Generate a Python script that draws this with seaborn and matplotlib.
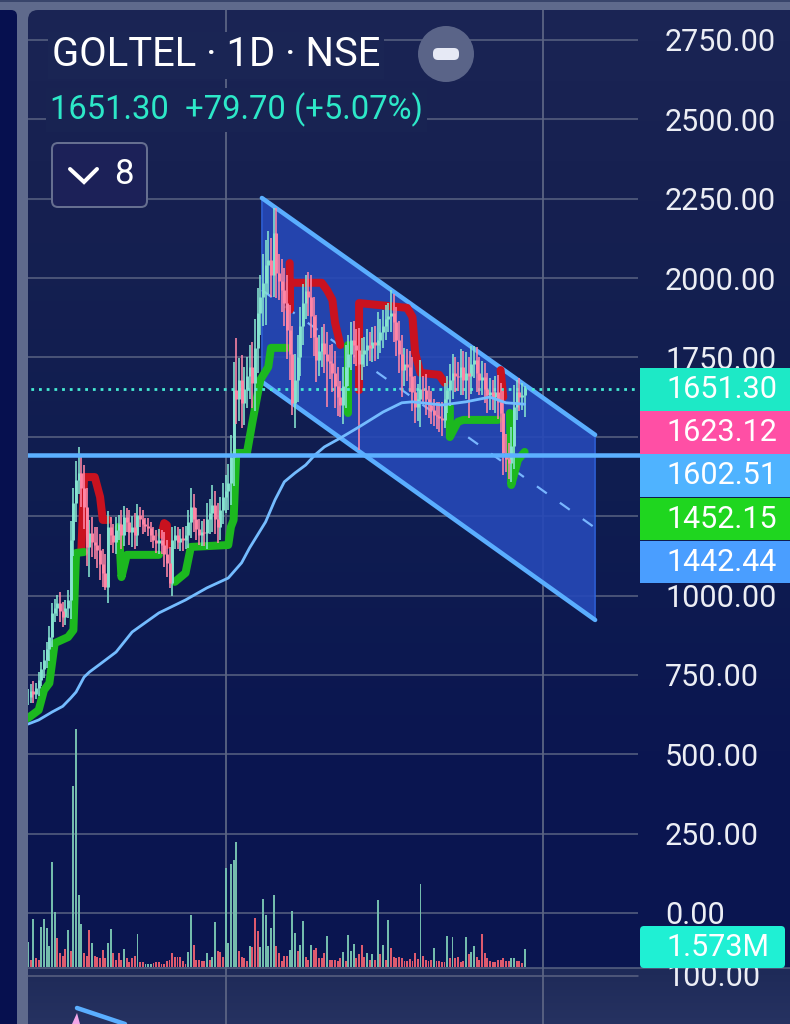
import numpy as np
import pandas as pd
import matplotlib
matplotlib.use("Agg")
import matplotlib.pyplot as plt
from matplotlib.patches import Circle, FancyBboxPatch, PathPatch, Polygon, Rectangle
from matplotlib.path import Path
import seaborn as sns

# ---- daily closes, one per session ----
closes = [
    680, 700, 690, 709, 735, 770, 797, 830, 869, 945,
    960, 976, 950, 932, 960, 986, 1175, 1290, 1364, 1386,
    1340, 1279, 1153, 1197, 1170, 1160, 1143, 1100, 1071, 1027,
    1216, 1190, 1170, 1206, 1225, 1190, 1247, 1230, 1200, 1216,
    1190, 1254, 1240, 1225, 1220, 1213, 1190, 1175, 1165, 1175,
    1160, 1130, 1102, 1040, 1175, 1190, 1170, 1180, 1175, 1190,
    1230, 1279, 1240, 1210, 1190, 1200, 1197, 1240, 1260, 1285,
    1240, 1216, 1270, 1310, 1330, 1354, 1436, 1647, 1620, 1679,
    1606, 1650, 1690, 1720, 1670, 1780, 1890, 1940, 1985, 2040,
    2057, 2010, 2142, 2016, 1990, 1962, 1920, 1836, 1760, 1606,
    1680, 1751, 1850, 1921, 1960, 1940, 1880, 1814, 1742, 1770,
    1795, 1760, 1740, 1732, 1700, 1660, 1625, 1600, 1660, 1720,
    1760, 1805, 1790, 1773, 1730, 1760, 1773, 1790, 1780, 1800,
    1790, 1805, 1830, 1850, 1870, 1880, 1890, 1860, 1805, 1760,
    1710, 1730, 1720, 1690, 1640, 1594, 1620, 1650, 1647, 1620,
    1600, 1584, 1570, 1565, 1560, 1553, 1620, 1647, 1680, 1700,
    1690, 1688, 1720, 1680, 1700, 1690, 1730, 1742, 1700, 1680,
    1688, 1650, 1630, 1640, 1625, 1640, 1610, 1575, 1449, 1430,
    1417, 1470, 1594, 1640, 1625, 1630, 1651.3,
]

# Typical wick length of each session, in rupees
wicks = [
    25, 20, 30, 15, 25, 20, 30, 25, 35, 30,
    30, 25, 35, 30, 25, 30, 60, 50, 60, 45,
    60, 70, 60, 40, 50, 45, 55, 50, 45, 60,
    50, 30, 35, 40, 30, 45, 35, 30, 40, 35,
    45, 35, 25, 30, 20, 25, 20, 25, 30, 35,
    30, 40, 45, 50, 40, 30, 25, 30, 35, 30,
    40, 50, 40, 35, 30, 35, 40, 50, 45, 60,
    45, 50, 40, 45, 50, 60, 70, 90, 80, 70,
    80, 70, 60, 70, 80, 90, 80, 70, 90, 80,
    90, 70, 70, 80, 60, 70, 70, 90, 80, 90,
    80, 70, 60, 60, 50, 60, 70, 60, 70, 50,
    50, 60, 70, 50, 60, 70, 60, 50, 60, 70,
    60, 50, 60, 50, 70, 50, 40, 50, 40, 45,
    50, 45, 40, 50, 45, 40, 50, 60, 50, 60,
    60, 50, 45, 50, 60, 50, 45, 50, 40, 50,
    40, 45, 35, 40, 45, 50, 50, 45, 50, 60,
    50, 45, 55, 50, 60, 50, 55, 45, 60, 50,
    50, 45, 50, 45, 40, 50, 55, 60, 70, 60,
    50, 60, 70, 40, 45, 40, 10,
]

# Sessions with a wick reaching well beyond the body
high_bars = [19, 61, 69, 78, 92, 121, 131, 136, 147, 164, 168, 186]
high_vals = [1468, 1339, 1348, 1810, 2220, 1862, 1893, 1962, 1742, 1767, 1783, 1660]
low_bars = [23, 29, 39, 53, 89, 99, 112, 117, 124, 140, 147, 156, 165, 172, 179, 186]
low_vals = [1058, 1017, 1153, 1024, 1852, 1569, 1594, 1562, 1458, 1625, 1531, 1528, 1559, 1575, 1389, 1562]

# ---- volume, in millions ----
volumes = [
    2.2, .6, 4.2, .8, .6, 3.5, 4.2, 3.4, 1.8, 9.1,
    4.75, 2.5, 1.2, 1.0, 1.6, 3.2, 1.4, 15.7, 20.7, 6.3,
    3.7, 1.2, 1.0, 3.2, 2.1, 1.0, .9, .8, 1.5, .8,
    2.1, 3.3, 1.2, .6, 1.2, .6, 1.6, .8, .4, .8,
    1.0, 2.9, .4, .4, .3, .3, .3, .35, .4, .4,
    .3, .25, .5, .6, 1.2, .9, .9, .9, .5, .3,
    1.3, 4.5, 1.9, .6, .6, .5, .5, 1.2, .6, .9,
    3.9, 1.4, 1.3, .9, 8.6, 2.1, 9.0, 9.3, 10.9, 1.4,
    .9, .8, .5, 1.8, 1.7, 4.3, 3.1, 1.7, 5.9, 4.5,
    1.8, 3.4, 6.3, 1.8, 1.2, .5, 1.0, 1.0, 1.5, 4.9,
    3.0, 1.4, 1.9, 4.0, .9, .6, 1.9, 1.5, 1.65, .8,
    .8, 1.2, 2.7, .65, .65, .65, .5, .8, 1.3, .5,
    2.8, 1.4, 2.0, .8, 1.1, 1.9, .9, 1.2, .65, 1.1,
    .65, 5.8, 1.1, 1.9, .65, 4.1, 1.65, .9, .8, .9,
    .8, .5, .5, .7, .5, 1.2, .7, 7.2, 1.0, .65,
    .5, .6, 1.65, .5, .5, .4, .4, 2.7, .8, 2.6,
    .8, .9, .4, .5, 2.6, 1.1, 1.3, 1.8, .9, .65,
    2.9, 1.2, .8, .5, .4, .4, .6, .65, .8, .5,
    .5, .8, .8, .5, .5, .35, 1.573,
]
volume_up_bars = [0, 2, 5, 6, 7, 8, 9, 10, 15, 17, 18, 19, 20, 24, 30, 31, 36, 41, 44, 45, 46,
                  60, 61, 67, 69, 70, 74, 75, 76, 77, 78, 83, 87, 88, 89, 90, 91, 92, 98, 99,
                  100, 102, 103, 106, 112, 118, 120, 121, 122, 127, 129, 131, 133, 135, 147,
                  152, 157, 159, 164, 166, 167, 181, 182, 186]

# ---- moving average ----
ema_bars = [0, 4, 9, 13, 16, 18, 21, 23, 27, 33, 39, 49, 59, 67, 75, 80, 83, 89, 92.5, 96, 100,
            104, 107.5, 111, 117, 124, 133, 140, 144, 155, 164, 173, 179, 186]
ema_vals = [595, 608, 633, 651, 677, 696, 743, 759, 784, 822, 885, 945, 986, 1024, 1055, 1103,
            1150, 1232, 1301, 1358, 1386, 1411, 1443, 1468, 1496, 1531, 1578, 1607, 1610, 1600,
            1610, 1625, 1607, 1602.51]

# ---- trailing stop, long side ----
green_segments = [
    ([0, 4, 6, 8, 10, 15, 17, 18, 21], [614, 639, 702, 724, 850, 869, 891, 1134, 1137]),
    ([34, 35, 37, 49], [1216, 1058, 1128, 1128]),
    ([55, 59, 61, 75, 76, 77, 78, 82, 84, 87, 90, 91, 97],
     [1043, 1071, 1153, 1159, 1216, 1238, 1449, 1449, 1544, 1679, 1720, 1780, 1780]),
    ([120, 120], [1789, 1575]),
    ([158, 158, 161, 163, 176], [1594, 1499, 1547, 1553, 1553]),
    ([180.5, 181, 183.5, 186], [1575, 1348, 1427, 1452.15]),
]

# ---- trailing stop, short side ----
red_segments = [
    ([20, 21, 25, 27, 28, 30], [1143, 1373, 1373, 1310, 1238, 1238]),
    ([50, 51, 52, 52], [1191, 1228, 1222, 1159]),
    ([98, 98, 98, 110, 112, 114, 115, 117],
     [2047, 1900, 1985, 1985, 1962, 1931, 1859, 1789]),
    ([124, 124, 142, 144, 145, 147, 154, 156],
     [1647, 1921, 1906, 1877, 1764, 1701, 1695, 1670]),
    ([177, 178], [1710, 1625]),
]

# ---- descending channel ----
channel_bars = [87.6, 212.4]
channel_upper = [2252, 1506]
channel_mid = [1962, 1213]
channel_lower = [1673, 923]
support_level = 1442.44
last_close = 1651.30

price_ticks = [2750, 2500, 2250, 2000, 1750, 1500, 1250, 1000, 750, 500, 250, 0]
covered_ticks = [1500, 1250]  # sit behind the price tags
time_gridlines = [74.2, 192.9]

price_tags = [("1651.30", "#1de9c6"), ("1623.12", "#ff4fa5"), ("1602.51", "#4fb3ff"),
              ("1452.15", "#1fd61f"), ("1442.44", "#4a9eff")]

sns.set_theme(style="dark")
plt.rcParams["font.family"] = ["Roboto", "DejaVu Sans"]

W, H = 790, 1024
PX = 0.72  # points per pixel at 100 dpi
LABEL_PT = 22
fig = plt.figure(figsize=(W / 100, H / 100), dpi=100)

ax = fig.add_axes([0, 0, 1, 1], zorder=1)
xlim = (-28 / 2.67, (W - 28) / 2.67)
ylim = ((913 - H) / 0.3175, 913 / 0.3175)
ax.set_xlim(xlim)
ax.set_ylim(ylim)

# Vertical background wash of the two panes
rows = np.arange(H)
stops = [0, 200, 500, 750, 967, 968, 1024]
shades = np.array([[27, 37, 85], [22, 32, 80], [15, 29, 80], [11, 22, 80], [10, 21, 80],
                   [30, 42, 88], [38, 50, 97]]) / 255
wash = np.stack([np.interp(rows, stops, shades[:, c]) for c in range(3)], axis=1)[:, None, :]
ax.imshow(wash, extent=(*xlim, ylim[0], ylim[1]), aspect="auto", origin="upper", zorder=0)

# Price axis: labels sit inside the figure, gridlines stop at the tag column
ax.set_yticks(price_ticks)
ax.set_yticklabels(["" if t in covered_ticks else f"{t:.2f}" for t in price_ticks])
ax.set_xticks([])
ax.tick_params(axis="y", length=0, left=False, labelleft=False, labelright=True, right=False,
               pad=-90, labelsize=LABEL_PT, labelcolor="#eceef5")
ax.grid(False)
for s in ax.spines.values():
    s.set_visible(False)

grid_c = "#5b6483"
ax.hlines(price_ticks, xlim[0], (638 - 28) / 2.67, color=grid_c, lw=1.5 * PX, zorder=0.5)
ax.vlines(time_gridlines, ylim[0], ylim[1], color=grid_c, lw=1.8 * PX, zorder=0.5)

# Channel body and rails
bx0, bx1 = channel_bars
ax.add_patch(Polygon([(bx0, channel_upper[0]), (bx1, channel_upper[1]),
                      (bx1, channel_lower[1]), (bx0, channel_lower[0])], closed=True,
                     facecolor="#2649b8", edgecolor="#3066e0", lw=1.5 * PX, alpha=0.9, zorder=1))
for rail in (channel_upper, channel_lower):
    sns.lineplot(x=channel_bars, y=rail, ax=ax, color="#5aaeff", linewidth=4.5 * PX,
                 estimator=None, sort=False, legend=False, zorder=2)
sns.lineplot(x=channel_bars, y=channel_mid, ax=ax, color="#78b6ff", linewidth=2.2 * PX,
             dashes=False, linestyle=(0, (5.5, 7.3)), estimator=None, sort=False,
             legend=False, zorder=2)

# Trailing stops
for bars, vals in red_segments:
    sns.lineplot(x=bars, y=vals, ax=ax, color="#c9121f", linewidth=8 * PX, estimator=None,
                 sort=False, legend=False, zorder=3, solid_capstyle="round",
                 solid_joinstyle="round")
for bars, vals in green_segments:
    sns.lineplot(x=bars, y=vals, ax=ax, color="#1cb81f", linewidth=8 * PX, estimator=None,
                 sort=False, legend=False, zorder=3, solid_capstyle="round",
                 solid_joinstyle="round")

# Candles: rising sessions first, so falling ones lie on top
close = np.array(closes, dtype=float)
opened = np.r_[close[0], close[:-1]]
bars = np.arange(len(close))
wick = np.array(wicks, dtype=float)
high = np.maximum(opened, close) + wick
low = np.minimum(opened, close) - wick
high[high_bars] = high_vals
low[low_bars] = low_vals
rising = close >= opened
for mask, colour, z in ((rising, "#86e4d0", 4.0), (~rising, "#ff86a6", 4.2)):
    ax.vlines(bars[mask], low[mask], high[mask], colors=colour, lw=1.6 * PX, zorder=z)
    ax.vlines(bars[mask], np.minimum(opened, close)[mask], np.maximum(opened, close)[mask],
              colors=colour, lw=2.9 * PX, zorder=z + 0.1)

# Moving average and levels
sns.lineplot(x=ema_bars, y=ema_vals, ax=ax, color="#74bcff", linewidth=2.8 * PX, estimator=None,
             sort=False, legend=False, zorder=5)
ax.hlines(support_level, xlim[0], (640 - 28) / 2.67, color="#5cb0ff", lw=4.5 * PX, zorder=6)
ax.hlines(last_close, xlim[0], (638 - 28) / 2.67, color="#45ead2", lw=2.8 * PX,
          linestyles=[(0, (1, 1.75))], zorder=3.5)
ax.set_xlim(xlim)
ax.set_ylim(ylim)
ax.set_xlabel("")
ax.set_ylabel("")

# Volume pane shares the bar positions, with its own scale
vol = fig.add_axes([0, (H - 967) / H, 1, 240 / H], zorder=2)
vol.patch.set_alpha(0)
frame = pd.DataFrame({"bar": bars, "volume": volumes})
frame["side"] = np.where(frame["bar"].isin(volume_up_bars), "up", "down")
sns.barplot(data=frame, x="bar", y="volume", hue="side", dodge=False, native_scale=True,
            palette={"up": "#68c8b4", "down": "#f4455f"}, width=0.72, linewidth=0,
            legend=False, ax=vol)
vol.set_xlim(xlim)
vol.set_ylim(0, 240 / 11.5)
vol.axis("off")

# Chart furniture, placed in pixel coordinates
ui = fig.add_axes([0, 0, 1, 1], zorder=3)
ui.set_xlim(0, W)
ui.set_ylim(H, 0)
ui.axis("off")

frame_c = "#5f6a8c"
ui.add_patch(Rectangle((0, 0), W, 10, fc=frame_c, ec="none", zorder=1))
ui.add_patch(Rectangle((0, 0), W, 2, fc="#39456b", ec="none", zorder=1.1))
ui.add_patch(Rectangle((0, 0), 28, H, fc=frame_c, ec="none", zorder=1))
ui.add_patch(FancyBboxPatch((-20, 14), 33, H + 20, boxstyle="round,pad=4,rounding_size=6",
                            fc="#06104f", ec="none", zorder=1.2))
ui.add_patch(PathPatch(Path([(28, 10), (38, 10), (28, 10), (28, 20), (28, 10)],
                            [Path.MOVETO, Path.LINETO, Path.CURVE3, Path.CURVE3, Path.CLOSEPOLY]),
                       fc=frame_c, ec="none", zorder=1.1))

# Pane divider and the top gridline of the lower pane
ui.plot([28, W], [968, 968], color=grid_c, lw=1.5 * PX, zorder=2)
ui.plot([28, 638], [976, 976], color=grid_c, lw=1.5 * PX, zorder=2)
ui.text(666, 978, "100.00", fontsize=LABEL_PT, color="#eceef5", va="center", ha="left", zorder=2)

# Drawing in the lower pane, cut by the figure edge
ui.add_patch(Polygon([(72, 1024), (77, 1013), (80, 1024)], fc="#f2a6e8", ec="none", zorder=2))
ui.plot([77, 125], [1008, 1024], color="#5aaeff", lw=4.5 * PX, zorder=2.1)

# Price tags
tag_top = 368
tag_h = 43.2
for n, (label, c) in enumerate(price_tags):
    ui.add_patch(Rectangle((640, tag_top + n * tag_h), W - 640, tag_h - 0.6, fc=c, ec="none", zorder=3))
    ui.text(666, tag_top + n * tag_h + tag_h / 2, label, fontsize=LABEL_PT, color="white",
            va="center", ha="left", zorder=4)
ui.add_patch(FancyBboxPatch((642, 928), 141, 38, boxstyle="round,pad=2,rounding_size=4",
                            fc="#1ff0d4", ec="none", zorder=3))
ui.text(666, 948, "1.573M", fontsize=LABEL_PT, color="white", va="center", ha="left", zorder=4)

# Header
ui.text(52, 55, "GOLTEL · 1D · NSE", fontsize=28.8, color="white", va="center", ha="left", zorder=4,
        bbox=dict(fc="#1a2554", ec="none", pad=3))
ui.text(50, 110, "1651.30  +79.70 (+5.07%)", fontsize=23.6, color="#2de8c8", va="center", ha="left",
        zorder=4, bbox=dict(fc="#182352", ec="none", pad=3))
ui.add_patch(Circle((446, 54), 28, fc="#5a6488", ec="none", zorder=4))
ui.add_patch(FancyBboxPatch((437, 52), 18, 4, boxstyle="round,pad=4,rounding_size=5",
                            fc="#e6e9f5", ec="none", zorder=5))
ui.add_patch(FancyBboxPatch((55, 146), 89, 58, boxstyle="round,pad=3,rounding_size=6",
                            fc="#1c2158", ec="#666f90", lw=2 * PX, zorder=4))
ui.plot([70, 84, 97], [169, 182, 169], color="white", lw=4 * PX, zorder=5,
        solid_capstyle="round", solid_joinstyle="miter")
ui.text(124, 174, "8", fontsize=25, color="white", va="center", ha="center", zorder=5)

fig.savefig("out.png", dpi=100, facecolor="#0b1650")
